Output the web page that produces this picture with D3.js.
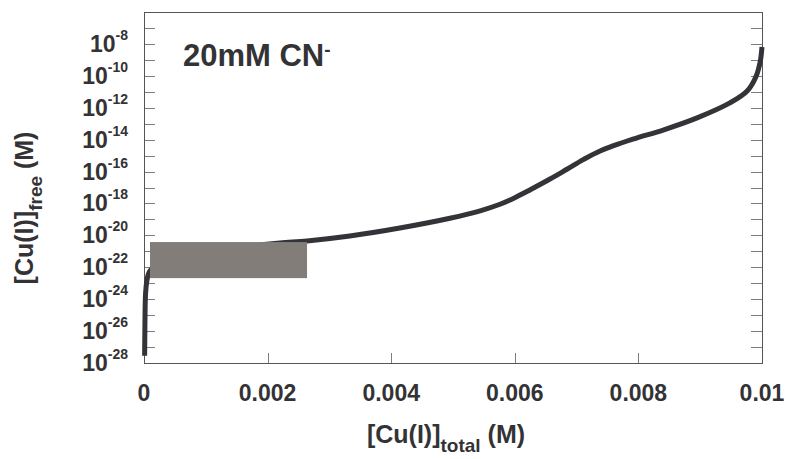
<!DOCTYPE html>
<html>
<head>
<meta charset="utf-8">
<script src="https://cdn.jsdelivr.net/npm/d3@7"></script>
<style>
  html, body { margin: 0; padding: 0; background: #fff; }
  text { font-family: "Liberation Sans", Arial, sans-serif; font-weight: bold; fill: #333336; }
</style>
</head>
<body>
<div id="chart"></div>
<script>
// values
const xTicks = [0, 0.002, 0.004, 0.006, 0.008, 0.01];
const xTickLabels = ["0", "0.002", "0.004", "0.006", "0.008", "0.01"];
const yMinorExponents = d3.range(-27, -6); // one tick per decade
const yLabelExponents = [-8, -10, -12, -14, -16, -18, -20, -22, -24, -26, -28];

// [Cu(I)]total (M)
const curveX = [0.000010, 0.000014, 0.000018, 0.000026, 0.000044, 0.000065, 0.000100,
  0.00030, 0.00080, 0.00150, 0.00220, 0.00264, 0.00333, 0.00414, 0.00495, 0.00544,
  0.00576, 0.00600, 0.00625, 0.00657, 0.00685, 0.00710, 0.00738, 0.00791, 0.00840,
  0.00895, 0.00948, 0.00976, 0.00990, 0.00997, 0.01000];
// log10 [Cu(I)]free (M)
const curveLog = [-27.55, -26.0, -24.6, -23.6, -22.9, -22.5, -22.2,
  -21.6, -21.1, -20.75, -20.48, -20.35, -20.04, -19.54, -18.93, -18.46,
  -18.05, -17.64, -17.14, -16.47, -15.84, -15.27, -14.71, -13.97, -13.40,
  -12.64, -11.70, -10.95, -10.07, -9.13, -8.19];

// grey box covering the low end of the curve
const boxX = [0.000097, 0.002638];
const boxLog = [-22.68, -20.42];

const width = 789, height = 459;
const margin = {left: 144, right: 27, top: 12, bottom: 96};

const svg = d3.select("#chart").append("svg")
  .attr("width", width)
  .attr("height", height);

const x = d3.scaleLinear().domain([0, 0.01]).range([margin.left, width - margin.right]);
const y = d3.scaleLog().domain([1e-28, 1e-6]).range([height - margin.bottom, margin.top]);

const x0 = x.range()[0], x1 = x.range()[1];
const y0 = y.range()[0], y1 = y.range()[1];

// ticks
const tickCol = "#7c7c7c";
svg.append("g").selectAll("line.yl")
  .data(yMinorExponents)
  .join("line")
  .attr("x1", x0).attr("x2", x0 + 11)
  .attr("y1", d => Math.round(y(Math.pow(10, d))) + 0.5)
  .attr("y2", d => Math.round(y(Math.pow(10, d))) + 0.5)
  .attr("stroke", tickCol);
svg.append("g").selectAll("line.yr")
  .data(yMinorExponents)
  .join("line")
  .attr("x1", x1).attr("x2", x1 - 11)
  .attr("y1", d => Math.round(y(Math.pow(10, d))) + 0.5)
  .attr("y2", d => Math.round(y(Math.pow(10, d))) + 0.5)
  .attr("stroke", tickCol);
svg.append("g").selectAll("line")
  .data(xTicks.slice(1, -1))
  .join("line")
  .attr("x1", d => Math.round(x(d)) + 0.5).attr("x2", d => Math.round(x(d)) + 0.5)
  .attr("y1", y0).attr("y2", y0 - 10)
  .attr("stroke", tickCol);

// frame
svg.append("rect")
  .attr("x", x0 + 0.5).attr("y", y1 + 0.5)
  .attr("width", x1 - x0).attr("height", y0 - y1)
  .attr("fill", "none")
  .attr("stroke", "#555");

// curve
const line = d3.line()
  .x(d => x(d[0]))
  .y(d => y(Math.pow(10, d[1])))
  .curve(d3.curveCatmullRom.alpha(0.5));

svg.append("path")
  .datum(curveX.map((v, i) => [v, curveLog[i]]))
  .attr("d", line)
  .attr("fill", "none")
  .attr("stroke", "#333338")
  .attr("stroke-width", 5);

// grey box on top of the curve
svg.append("rect")
  .attr("x", x(boxX[0]))
  .attr("y", y(Math.pow(10, boxLog[1])))
  .attr("width", x(boxX[1]) - x(boxX[0]))
  .attr("height", y(Math.pow(10, boxLog[0])) - y(Math.pow(10, boxLog[1])))
  .attr("fill", "#827d79");

// y tick labels
const yl = svg.append("g").selectAll("text")
  .data(yLabelExponents)
  .join("text")
  .attr("x", 128)
  .attr("y", d => y(Math.pow(10, d)) + 8)
  .attr("text-anchor", "end")
  .attr("font-size", 23);
yl.append("tspan").text("10");
yl.append("tspan").attr("font-size", 14).attr("dy", -12).text(d => d);

// x tick labels
svg.append("g").selectAll("text")
  .data(xTicks)
  .join("text")
  .attr("x", d => x(d))
  .attr("y", 401)
  .attr("text-anchor", "middle")
  .attr("font-size", 23)
  .text((d, i) => xTickLabels[i]);

// axis titles
const xt = svg.append("text")
  .attr("x", 446).attr("y", 443)
  .attr("text-anchor", "middle")
  .attr("font-size", 25);
xt.append("tspan").text("[Cu(I)]");
xt.append("tspan").attr("font-size", 19).attr("dy", 9).text("total");
xt.append("tspan").attr("dy", -9).text(" (M)");

const yt = svg.append("text")
  .attr("transform", "translate(33,208) rotate(-90)")
  .attr("text-anchor", "middle")
  .attr("font-size", 25);
yt.append("tspan").text("[Cu(I)]");
yt.append("tspan").attr("font-size", 19).attr("dy", 9).text("free");
yt.append("tspan").attr("dy", -9).text(" (M)");

// annotation
const ann = svg.append("text")
  .attr("x", 183).attr("y", 66)
  .attr("font-size", 31);
ann.append("tspan").text("20mM CN");
ann.append("tspan").attr("font-size", 19).attr("dy", -10).text("-");
</script>
</body>
</html>
